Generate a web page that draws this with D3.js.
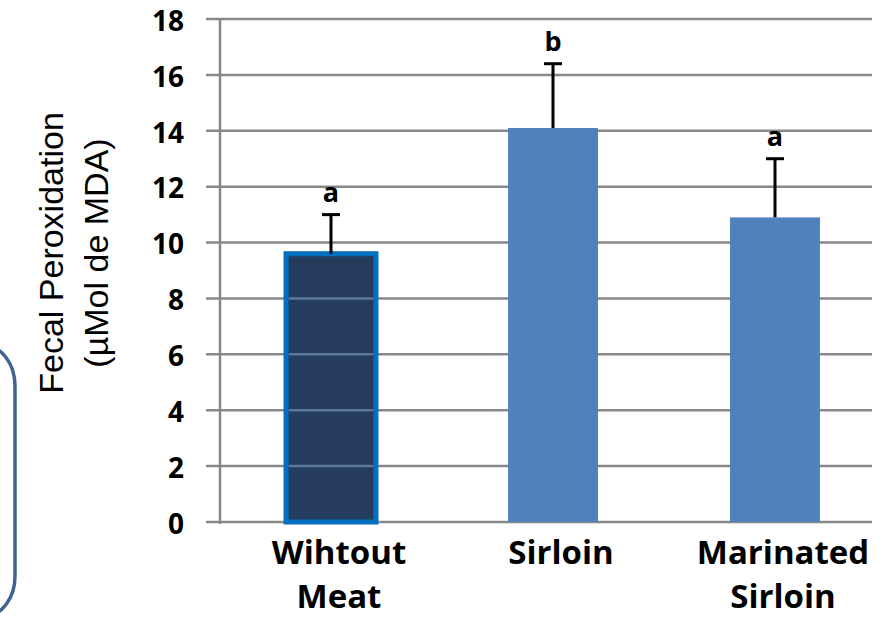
<!DOCTYPE html>
<html>
<head>
<meta charset="utf-8">
<script src="https://cdn.jsdelivr.net/npm/d3@7"></script>
<style>
  html, body { margin: 0; padding: 0; background: #fff; }
  svg { display: block; }
</style>
</head>
<body>
<svg id="chart" width="895" height="617"></svg>
<script>
// Fecal peroxidation by diet group
const categories = [["Wihtout", "Meat"], ["Sirloin"], ["Marinated", "Sirloin"]];
const means = [9.6, 14.1, 10.9];
const errors = [1.4, 2.3, 2.1];
const letters = ["a", "b", "a"];
const yTicks = [0, 2, 4, 6, 8, 10, 12, 14, 16, 18];

const svg = d3.select("#chart");
const keys = categories.map(c => c.join(" "));

const x = d3.scaleBand().domain(keys).range([220, 886])
  .paddingInner(0.595).paddingOuter(0.2975);
const y = d3.scaleLinear().domain([0, 18]).range([522, 19]);

const gridColor = "#888888";
const tickFont = "'Open Sans', 'DejaVu Sans', sans-serif";

// rounded frame at the left edge
svg.append("rect")
  .attr("x", -45).attr("y", 346).attr("width", 60).attr("height", 270)
  .attr("rx", 40).attr("ry", 40)
  .attr("fill", "none").attr("stroke", "#3F6292").attr("stroke-width", 3.5);

// horizontal gridlines with short tick stubs
svg.append("g").selectAll("line").data(yTicks).join("line")
  .attr("x1", 206).attr("x2", 872)
  .attr("y1", d => y(d)).attr("y2", d => y(d))
  .attr("stroke", gridColor).attr("stroke-width", 2.5);

// vertical axis line
svg.append("line")
  .attr("x1", 220).attr("x2", 220)
  .attr("y1", y(18)).attr("y2", y(0) + 2)
  .attr("stroke", gridColor).attr("stroke-width", 2.5);

// tick labels
svg.append("g").selectAll("text").data(yTicks).join("text")
  .attr("x", 184).attr("y", d => y(d)).attr("dy", "0.42em")
  .attr("text-anchor", "end")
  .attr("font-family", tickFont).attr("font-weight", 700).attr("font-size", 28)
  .attr("fill", "#000")
  .text(d => d);

// bars
const bars = svg.append("g");
keys.forEach((k, i) => {
  const first = i === 0;
  bars.append("rect")
    .attr("x", x(k)).attr("width", x.bandwidth())
    .attr("y", y(means[i])).attr("height", y(0) - y(means[i]))
    .attr("fill", first ? "#253C5C" : "#4F81BD")
    .attr("stroke", first ? "#0070C0" : "none")
    .attr("stroke-width", first ? 5 : 0);
  if (first) {
    // gridlines show through the dark bar
    yTicks.filter(t => t > 0 && t < means[i]).forEach(t => {
      bars.append("line")
        .attr("x1", x(k) + 2.5).attr("x2", x(k) + x.bandwidth() - 2.5)
        .attr("y1", y(t)).attr("y2", y(t))
        .attr("stroke", "#5C7797").attr("stroke-width", 2.5);
    });
  }
});

// error bars (upper only)
const eb = svg.append("g").attr("stroke", "#000").attr("stroke-width", 3);
keys.forEach((k, i) => {
  const cx = x(k) + x.bandwidth() / 2;
  const top = y(means[i] + errors[i]);
  eb.append("line").attr("x1", cx).attr("x2", cx)
    .attr("y1", y(means[i])).attr("y2", top);
  eb.append("line").attr("x1", cx - 9).attr("x2", cx + 9)
    .attr("y1", top).attr("y2", top);
});

// significance letters
svg.append("g").selectAll("text").data(keys).join("text")
  .attr("x", k => x(k) + x.bandwidth() / 2)
  .attr("y", (k, i) => y(means[i] + errors[i]) - 13)
  .attr("text-anchor", "middle")
  .attr("font-family", tickFont).attr("font-weight", 700).attr("font-size", 27)
  .attr("fill", "#000")
  .text((k, i) => letters[i]);

// category labels
const cl = svg.append("g");
categories.forEach((lines, i) => {
  const cx = x(keys[i]) + x.bandwidth() / 2 + 8;
  const t = cl.append("text")
    .attr("x", cx).attr("y", 564)
    .attr("text-anchor", "middle")
    .attr("font-family", tickFont).attr("font-weight", 700).attr("font-size", 33)
    .attr("fill", "#000");
  lines.forEach((ln, j) => {
    t.append("tspan").attr("x", cx)
      .attr("dy", j === 0 ? 0 : 44).text(ln);
  });
});

// y-axis title
const yt = svg.append("text")
  .attr("transform", "translate(63,253) rotate(-90)")
  .attr("text-anchor", "middle")
  .attr("font-family", "'Liberation Sans', Arial, sans-serif")
  .attr("font-size", 34).attr("fill", "#000");
yt.append("tspan").attr("x", 0).attr("y", 0).text("Fecal Peroxidation");
yt.append("tspan").attr("x", 0).attr("y", 45).text("(µMol de MDA)");
</script>
</body>
</html>
